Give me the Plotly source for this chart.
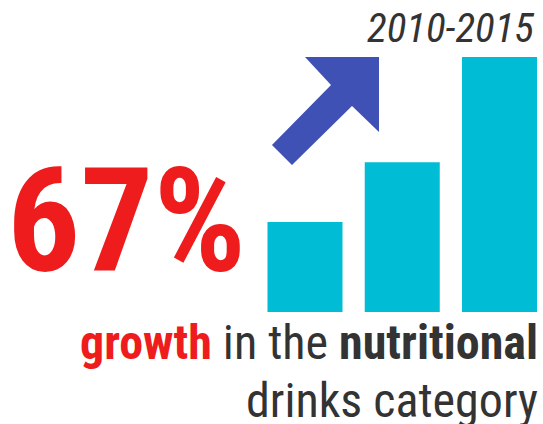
import plotly.graph_objects as go

# ---- data ----
periods = [0, 1, 2]
values = [59, 98, 167]
headline = "67%"
year_label = "2010-2015"

# ---- style ----
W, H = 543, 424
CYAN = "#00BCD4"
INDIGO = "#3F51B5"
RED = "#EE1C1C"
DARK = "#333333"
FONT = "Roboto Condensed, Roboto, sans-serif"

# layout of the bar area, in pixels
bar_base_px = 312
bar_top_px = 57
x0_px, step_px = 305, 97.25
px_per_unit = (bar_base_px - bar_top_px) / max(values)

xr = [(0 - x0_px) / step_px, (W - x0_px) / step_px]
yr = [-(H - bar_base_px) / px_per_unit, bar_base_px / px_per_unit]

fig = go.Figure()
fig.add_trace(go.Bar(x=periods, y=values, width=75 / step_px, marker=dict(color=CYAN, line=dict(width=0)),
                     hoverinfo="skip"))

# arrow polygon (pixels) -> paper
arrow_px = [(379, 57), (305, 57), (331, 85), (272, 145), (292, 165), (352, 106), (379, 132)]
path = "M " + " L ".join(f"{x / W:.5f},{1 - y / H:.5f}" for x, y in arrow_px) + " Z"
fig.add_shape(type="path", path=path, xref="paper", yref="paper", fillcolor=INDIGO, line=dict(width=0))


def ann(text, xpx, ypx, size, xanchor="left", color=DARK, weight="normal", style="normal"):
    fig.add_annotation(x=xpx / W, y=1 - ypx / H, xref="paper", yref="paper", text=text, showarrow=False,
                       xanchor=xanchor, yanchor="middle",
                       font=dict(family=FONT, size=size, color=color, weight=weight, style=style))


ann(headline, 5, 221, 145, color=RED, weight="bold")
ann(year_label, 536, 28, 41, xanchor="right", style="italic")
ann(f'<span style="color:{RED}"><b>growth</b></span> in the <b>nutritional</b>', 540, 342, 48, xanchor="right")
ann("drinks category", 540, 400, 48, xanchor="right")

fig.update_layout(width=W, height=H, margin=dict(l=0, r=0, t=0, b=0), showlegend=False,
                  paper_bgcolor="white", plot_bgcolor="white",
                  xaxis=dict(visible=False, range=xr, fixedrange=True),
                  yaxis=dict(visible=False, range=yr, fixedrange=True))
fig.write_html("out.html")
